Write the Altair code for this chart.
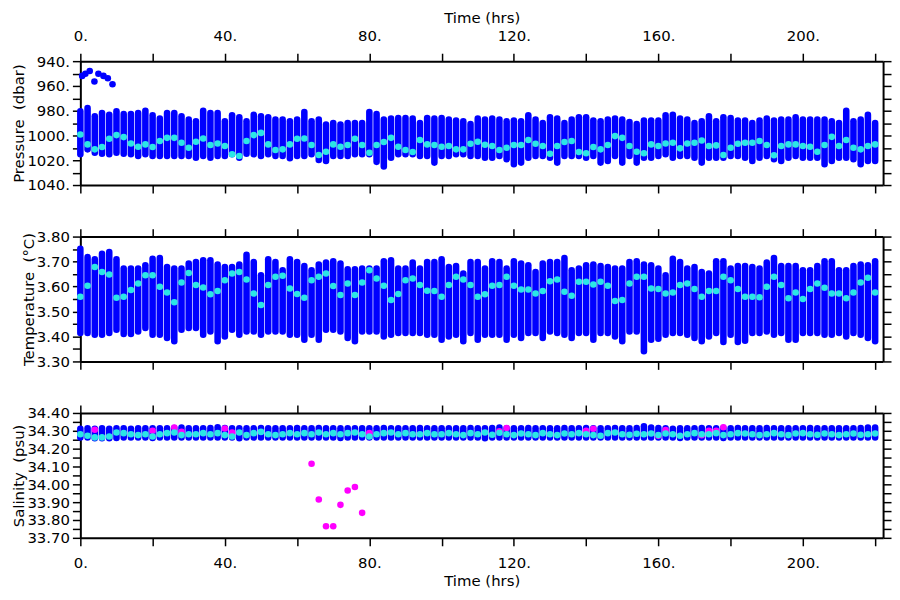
import altair as alt
import pandas as pd

# ---------------- data ----------------
HOURS = list(range(0, 221, 2))

P_TOP = [980.5, 977.9, 984.5, 981.9, 983.2, 980.5, 982.7, 982.7, 981.9, 980.0,
         983.7, 986.4, 981.9, 981.9, 984.5, 987.2, 988.5, 980.0, 981.9, 981.9,
         988.5, 983.7, 985.3, 988.5, 983.2, 984.5, 985.3, 987.2, 987.2, 988.5,
         987.2, 981.1, 988.5, 987.2, 991.2, 989.9, 991.2, 989.9, 989.9, 989.9,
         981.1, 982.7, 987.2, 986.4, 985.9, 985.9, 986.4, 989.9, 985.9, 986.4,
         985.9, 987.2, 988.0, 988.5, 990.7, 986.4, 987.2, 986.4, 987.2, 988.5,
         988.0, 988.5, 983.7, 987.2, 989.9, 985.3, 986.4, 989.9, 987.2, 985.3,
         985.3, 988.0, 988.5, 987.2, 986.4, 987.2, 989.1, 990.7, 988.0, 988.0,
         988.0, 983.7, 983.2, 986.4, 987.2, 989.9, 988.5, 984.5, 988.5, 985.3,
         985.9, 988.0, 988.0, 989.9, 988.0, 986.4, 988.0, 987.2, 987.2, 985.3,
         987.2, 987.2, 987.2, 987.2, 988.5, 989.9, 980.0, 988.5, 987.2, 983.2,
         989.9]
P_BOT = [1015.2, 1011.2, 1013.9, 1014.7, 1015.2, 1013.9, 1014.7, 1015.2, 1016.5, 1015.2,
         1016.5, 1016.5, 1016.5, 1016.5, 1016.5, 1016.5, 1017.9, 1016.5, 1017.9, 1016.5,
         1016.5, 1015.2, 1017.9, 1014.7, 1015.2, 1016.5, 1015.2, 1016.5, 1016.5, 1018.4,
         1016.5, 1016.5, 1015.2, 1019.7, 1020.5, 1016.5, 1016.5, 1016.5, 1015.2, 1015.2,
         1015.2, 1021.3, 1025.1, 1017.9, 1015.2, 1015.2, 1015.2, 1016.5, 1016.5, 1021.9,
         1016.5, 1016.5, 1015.2, 1015.2, 1016.5, 1016.5, 1017.9, 1017.9, 1016.5, 1019.2,
         1023.2, 1021.9, 1017.9, 1016.5, 1016.5, 1017.9, 1021.9, 1016.5, 1016.5, 1016.5,
         1017.9, 1016.5, 1021.9, 1020.5, 1016.5, 1021.9, 1016.5, 1021.9, 1017.9, 1017.9,
         1016.5, 1015.2, 1017.9, 1016.5, 1016.5, 1017.9, 1021.9, 1017.9, 1017.9, 1017.9,
         1016.5, 1016.5, 1017.9, 1020.5, 1017.9, 1016.5, 1019.2, 1020.5, 1017.9, 1016.5,
         1017.9, 1017.9, 1017.9, 1023.2, 1020.5, 1017.9, 1017.9, 1019.2, 1023.2, 1020.5,
         1020.5]
P_MEAN = [999.2, 1007.2, 1011.2, 1009.3, 1002.7, 999.7, 1001.3, 1006.4, 1009.1, 1007.2,
          1009.3, 1004.5, 1001.9, 1001.9, 1005.9, 1009.9, 1005.1, 1002.4, 1007.7, 1006.4,
          1008.5, 1015.2, 1016.5, 1004.5, 999.7, 997.9, 1007.2, 1011.7, 1011.2, 1007.2,
          1002.7, 1002.4, 1007.7, 1015.7, 1013.1, 1007.2, 1009.1, 1007.7, 1002.7, 1007.7,
          1013.9, 1007.7, 1005.3, 1001.9, 1009.1, 1011.7, 1013.3, 1003.7, 1007.2, 1007.7,
          1009.1, 1008.5, 1011.2, 1011.2, 1006.7, 1005.1, 1007.5, 1008.5, 1011.7, 1009.9,
          1007.7, 1007.7, 1003.7, 1006.7, 1008.5, 1014.7, 1008.5, 1005.3, 1004.5, 1013.3,
          1014.4, 1009.3, 1011.2, 1007.7, 1000.5, 1001.9, 1008.5, 1013.1, 1014.4, 1007.2,
          1008.5, 1006.4, 1005.9, 1010.4, 1006.4, 1005.9, 1004.0, 1008.5, 1008.0, 1015.7,
          1009.9, 1006.7, 1005.9, 1005.9, 1004.5, 1007.7, 1016.0, 1008.5, 1007.2, 1007.2,
          1008.5, 1009.1, 1013.1, 1007.7, 1001.1, 1008.5, 1003.7, 1009.9, 1011.2, 1008.5,
          1007.2]
P_OUT_T = [0.5, 1.4, 2.6, 3.9, 5.0, 6.4, 7.6, 8.9]
P_OUT_V = [951.9, 950.1, 948.0, 956.4, 950.1, 951.9, 953.8, 958.6]

T_TOP = [3.751, 3.718, 3.709, 3.731, 3.738, 3.709, 3.672, 3.672, 3.672, 3.685,
         3.711, 3.714, 3.678, 3.672, 3.672, 3.692, 3.698, 3.705, 3.705, 3.688,
         3.678, 3.678, 3.688, 3.727, 3.698, 3.645, 3.709, 3.698, 3.665, 3.709,
         3.698, 3.682, 3.665, 3.688, 3.696, 3.701, 3.692, 3.669, 3.669, 3.672,
         3.672, 3.672, 3.701, 3.705, 3.672, 3.672, 3.696, 3.672, 3.698, 3.698,
         3.709, 3.678, 3.682, 3.652, 3.698, 3.698, 3.672, 3.701, 3.698, 3.672,
         3.701, 3.692, 3.685, 3.658, 3.692, 3.698, 3.698, 3.714, 3.665, 3.672,
         3.685, 3.688, 3.682, 3.678, 3.672, 3.672, 3.698, 3.701, 3.688, 3.685,
         3.672, 3.645, 3.711, 3.698, 3.672, 3.678, 3.658, 3.652, 3.701, 3.701,
         3.672, 3.682, 3.682, 3.678, 3.672, 3.696, 3.714, 3.682, 3.682, 3.682,
         3.665, 3.665, 3.682, 3.701, 3.701, 3.665, 3.665, 3.682, 3.688, 3.685,
         3.701]
T_BOT = [3.414, 3.414, 3.407, 3.407, 3.414, 3.427, 3.410, 3.410, 3.420, 3.434,
         3.407, 3.407, 3.394, 3.381, 3.427, 3.434, 3.434, 3.407, 3.420, 3.381,
         3.400, 3.427, 3.407, 3.420, 3.420, 3.407, 3.420, 3.420, 3.420, 3.407,
         3.407, 3.387, 3.407, 3.387, 3.427, 3.427, 3.420, 3.394, 3.381, 3.420,
         3.420, 3.420, 3.400, 3.407, 3.414, 3.414, 3.414, 3.414, 3.407, 3.407,
         3.387, 3.400, 3.407, 3.381, 3.414, 3.387, 3.407, 3.407, 3.407, 3.387,
         3.407, 3.394, 3.414, 3.414, 3.394, 3.420, 3.414, 3.407, 3.394, 3.414,
         3.414, 3.387, 3.414, 3.414, 3.400, 3.381, 3.420, 3.420, 3.341, 3.387,
         3.391, 3.407, 3.414, 3.414, 3.407, 3.394, 3.381, 3.400, 3.414, 3.378,
         3.407, 3.378, 3.383, 3.414, 3.414, 3.420, 3.407, 3.414, 3.387, 3.387,
         3.414, 3.414, 3.414, 3.407, 3.407, 3.414, 3.400, 3.414, 3.407, 3.394,
         3.381]
T_MEAN = [3.559, 3.603, 3.678, 3.658, 3.648, 3.555, 3.559, 3.586, 3.612, 3.645,
          3.645, 3.599, 3.576, 3.537, 3.616, 3.654, 3.606, 3.596, 3.569, 3.582,
          3.625, 3.652, 3.658, 3.628, 3.572, 3.526, 3.606, 3.639, 3.643, 3.592,
          3.570, 3.555, 3.625, 3.639, 3.652, 3.602, 3.566, 3.612, 3.566, 3.616,
          3.665, 3.632, 3.603, 3.546, 3.570, 3.625, 3.632, 3.606, 3.583, 3.582,
          3.559, 3.606, 3.639, 3.628, 3.606, 3.559, 3.569, 3.603, 3.606, 3.639,
          3.603, 3.588, 3.588, 3.572, 3.582, 3.621, 3.628, 3.579, 3.563, 3.619,
          3.619, 3.608, 3.619, 3.603, 3.542, 3.546, 3.612, 3.639, 3.639, 3.592,
          3.590, 3.572, 3.576, 3.606, 3.612, 3.590, 3.559, 3.582, 3.582, 3.639,
          3.625, 3.590, 3.559, 3.559, 3.557, 3.599, 3.639, 3.606, 3.553, 3.576,
          3.550, 3.590, 3.612, 3.595, 3.572, 3.572, 3.553, 3.576, 3.616, 3.635,
          3.576]

S_TOP = [34.312, 34.314, 34.312, 34.314, 34.312, 34.314, 34.314, 34.312, 34.314, 34.314,
         34.314, 34.314, 34.314, 34.316, 34.318, 34.314, 34.314, 34.314, 34.316, 34.320,
         34.316, 34.314, 34.314, 34.314, 34.314, 34.316, 34.314, 34.314, 34.314, 34.314,
         34.316, 34.314, 34.314, 34.316, 34.314, 34.314, 34.314, 34.314, 34.314, 34.314,
         34.314, 34.314, 34.316, 34.314, 34.314, 34.314, 34.314, 34.316, 34.314, 34.314,
         34.314, 34.314, 34.314, 34.314, 34.316, 34.314, 34.314, 34.316, 34.318, 34.314,
         34.314, 34.314, 34.316, 34.314, 34.314, 34.314, 34.314, 34.316, 34.314, 34.314,
         34.316, 34.314, 34.314, 34.314, 34.316, 34.314, 34.314, 34.316, 34.325, 34.318,
         34.316, 34.314, 34.312, 34.314, 34.314, 34.314, 34.316, 34.314, 34.314, 34.316,
         34.314, 34.316, 34.314, 34.314, 34.314, 34.316, 34.314, 34.314, 34.314, 34.314,
         34.314, 34.316, 34.314, 34.314, 34.314, 34.314, 34.314, 34.314, 34.316, 34.318,
         34.318]
S_BOT = [34.262, 34.262, 34.258, 34.258, 34.258, 34.260, 34.262, 34.262, 34.262, 34.262,
         34.260, 34.262, 34.262, 34.262, 34.262, 34.262, 34.262, 34.262, 34.262, 34.262,
         34.262, 34.262, 34.259, 34.262, 34.262, 34.262, 34.262, 34.262, 34.262, 34.262,
         34.262, 34.262, 34.262, 34.262, 34.262, 34.262, 34.260, 34.262, 34.262, 34.262,
         34.262, 34.262, 34.262, 34.262, 34.262, 34.262, 34.262, 34.262, 34.262, 34.262,
         34.262, 34.262, 34.262, 34.262, 34.262, 34.262, 34.258, 34.262, 34.262, 34.262,
         34.262, 34.262, 34.262, 34.262, 34.262, 34.262, 34.262, 34.262, 34.262, 34.262,
         34.262, 34.262, 34.262, 34.262, 34.262, 34.262, 34.262, 34.262, 34.262, 34.262,
         34.262, 34.262, 34.262, 34.260, 34.262, 34.262, 34.262, 34.262, 34.262, 34.260,
         34.262, 34.262, 34.262, 34.262, 34.262, 34.262, 34.262, 34.262, 34.262, 34.262,
         34.262, 34.262, 34.262, 34.262, 34.262, 34.262, 34.262, 34.262, 34.262, 34.262,
         34.262]
S_MEAN = [34.281, 34.272, 34.263, 34.263, 34.268, 34.291, 34.287, 34.281, 34.276, 34.281,
          34.268, 34.281, 34.287, 34.291, 34.276, 34.281, 34.281, 34.287, 34.281, 34.287,
          34.276, 34.268, 34.291, 34.276, 34.287, 34.294, 34.281, 34.276, 34.281, 34.287,
          34.281, 34.287, 34.281, 34.291, 34.281, 34.287, 34.281, 34.287, 34.291, 34.281,
          34.268, 34.281, 34.287, 34.291, 34.281, 34.287, 34.281, 34.281, 34.287, 34.281,
          34.281, 34.287, 34.281, 34.276, 34.287, 34.281, 34.291, 34.278, 34.289, 34.281,
          34.276, 34.285, 34.281, 34.276, 34.287, 34.281, 34.276, 34.285, 34.281, 34.287,
          34.281, 34.276, 34.272, 34.287, 34.291, 34.281, 34.278, 34.284, 34.281, 34.285,
          34.276, 34.285, 34.281, 34.272, 34.281, 34.287, 34.281, 34.281, 34.287, 34.276,
          34.281, 34.287, 34.285, 34.281, 34.276, 34.281, 34.287, 34.281, 34.276, 34.285,
          34.287, 34.281, 34.278, 34.285, 34.281, 34.276, 34.281, 34.285, 34.278, 34.281,
          34.285]
S_FLAG_T = [4, 20, 26, 28, 40, 42, 64, 66, 68, 70, 72, 74, 76, 78, 80,
            116, 118, 140, 142, 160, 162, 172, 174, 176, 178]
S_FLAG_V = [34.306, 34.300, 34.318, 34.294, 34.313, 34.291, 34.115, 33.915, 33.765,
            33.765, 33.885, 33.965, 33.985, 33.840, 34.287, 34.298, 34.316, 34.300,
            34.312, 34.272, 34.305, 34.275, 34.300, 34.300, 34.320]

# ---------------- styling ----------------
FONT = "DejaVu Sans"
BLUE = "#0000FF"
CYAN = "#2BE6E6"
MAGENTA = "#FF00FF"
W = 810
XDOM = [0, 222.2]
XTICKS = list(range(0, 221, 20))
DOT = 6.6
DOT_AREA = 44


def x_axis(orient, labeled):
    kw = dict(orient=orient, values=XTICKS, tickSize=8, tickWidth=1.5, tickColor="black",
              domainColor="black", domainWidth=2, grid=False, labelFont=FONT,
              labelFontSize=15, labelColor="black", labelFlush=False,
              labelOverlap=False, titleFont=FONT, titleFontSize=15,
              titleFontWeight="normal", titleColor="black")
    if labeled:
        kw["labelExpr"] = "datum.value % 40 === 0 ? datum.value + '.' : ''"
        kw["title"] = "Time (hrs)"
        if orient == "top":
            kw["labelPadding"] = 10
            kw["titlePadding"] = 3
        else:
            kw["labelPadding"] = 10
            kw["titlePadding"] = 3
    else:
        kw["labels"] = False
        kw["title"] = None
    return alt.Axis(**kw)


def y_axis(orient, labeled, values, expr, title):
    kw = dict(orient=orient, values=values, tickSize=8, tickWidth=1.5, tickColor="black",
              domainColor="black", domainWidth=2, grid=False, labelFont=FONT,
              labelFontSize=15, labelColor="black", labelPadding=3, labelFlush=False,
              labelOverlap=False, titleFont=FONT, titleFontSize=15,
              titleFontWeight="normal", titleColor="black", titlePadding=0)
    if labeled:
        kw["labelExpr"] = expr
        kw["title"] = title
    else:
        kw["labels"] = False
        kw["title"] = None
    return alt.Axis(**kw)


def panel(lo, hi, mean, ydom, reverse, yvalues, yexpr, ytitle, top_lab, bot_lab, extras, h):
    df = pd.DataFrame({"t": HOURS, "lo": lo, "hi": hi, "mean": mean})
    ys = alt.Scale(domain=ydom, reverse=reverse, nice=False, zero=False)
    xs = alt.Scale(domain=XDOM, nice=False, zero=False)
    cols = alt.Chart(df).mark_rule(color=BLUE, strokeWidth=DOT, strokeCap="round").encode(
        x=alt.X("t:Q", scale=xs, axis=x_axis("bottom", bot_lab)),
        y=alt.Y("lo:Q", scale=ys, axis=y_axis("left", True, yvalues, yexpr, ytitle)),
        y2="hi:Q",
    )
    layers = [cols]
    for edf, color in extras:
        layers.append(
            alt.Chart(edf).mark_circle(color=color, size=DOT_AREA, opacity=1).encode(
                x=alt.X("t:Q", scale=xs, axis=None),
                y=alt.Y("v:Q", scale=ys, axis=None),
            )
        )
    means = alt.Chart(df).mark_circle(color=CYAN, size=DOT_AREA, opacity=1).encode(
        x=alt.X("t:Q", scale=xs, axis=x_axis("top", top_lab)),
        y=alt.Y("mean:Q", scale=ys, axis=y_axis("right", False, yvalues, yexpr, ytitle)),
    )
    layers.append(means)
    return alt.layer(*layers).resolve_axis(x="independent", y="independent").properties(
        width=W, height=h)


P_TICKS = list(range(940, 1041, 10))
T_TICKS = [round(3.30 + 0.05 * i, 2) for i in range(11)]
S_TICKS = [round(33.70 + 0.05 * i, 2) for i in range(15)]
P_EXPR = "datum.value % 20 === 0 ? format(datum.value, 'd') + '.' : ''"
D_EXPR = "abs(datum.value * 10 - round(datum.value * 10)) < 0.001 ? format(datum.value, '.2f') : ''"

p_out = pd.DataFrame({"t": P_OUT_T, "v": P_OUT_V})
s_flag = pd.DataFrame({"t": S_FLAG_T, "v": S_FLAG_V})

pres = panel(P_TOP, P_BOT, P_MEAN, [940, 1040], True, P_TICKS, P_EXPR,
             "Pressure\u00a0 (dbar)", True, False, [(p_out, BLUE)], 125)
temp = panel(T_TOP, T_BOT, T_MEAN, [3.30, 3.80], False, T_TICKS, D_EXPR,
             "Temperature\u00a0 (\u00b0C)", False, False, [], 126)
sal = panel(S_TOP, S_BOT, S_MEAN, [33.70, 34.40], False, S_TICKS, D_EXPR,
            "Salinity\u00a0 (psu)", False, True, [(s_flag, MAGENTA)], 126)

chart = alt.vconcat(pres, temp, sal, spacing=34).properties(
    padding={"left": 4, "top": 0, "right": 0, "bottom": 0}, background="white"
).configure_view(strokeWidth=0)

chart.save("out.html", embed_options={"renderer": "svg", "actions": False})
